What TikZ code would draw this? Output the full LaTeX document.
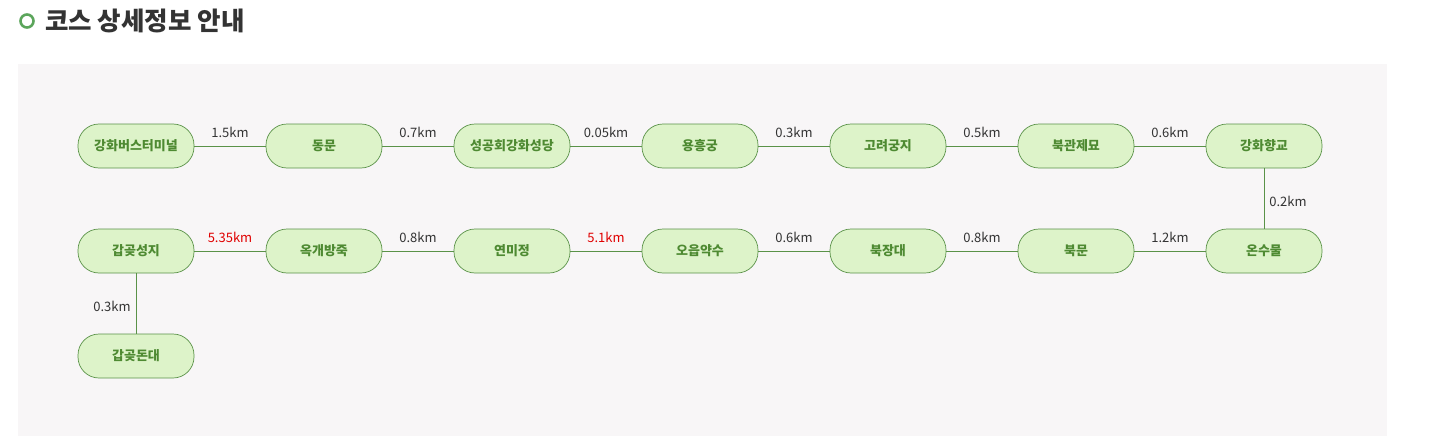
\documentclass[tikz,border=0pt]{standalone}
\usepackage{fontspec}
\setmainfont{Noto Sans CJK KR}
\definecolor{bgc}{HTML}{F8F6F7}
\definecolor{nfill}{HTML}{DDF3C9}
\definecolor{nline}{HTML}{5A9248}
\definecolor{ntext}{HTML}{4E8A32}
\definecolor{lblc}{HTML}{333333}
\definecolor{redc}{HTML}{E00000}
\definecolor{ringc}{HTML}{5BA55B}
\begin{document}
\begin{tikzpicture}[x=1pt,y=-1pt,
  stop/.style={draw=nline,fill=nfill,rounded corners=21pt,minimum width=116pt,minimum height=44pt,
    inner sep=0pt,font=\fontsize{13}{15}\selectfont\bfseries,text=ntext,line width=0.7pt},
  link/.style={draw=nline,line width=0.8pt},
  dist/.style={font=\fontsize{13}{15}\selectfont,text=lblc,inner sep=2pt},
  far/.style={dist,text=redc}]
\useasboundingbox (0,0) rectangle (1448,436);
\fill[white] (0,0) rectangle (1448,436);
\fill[bgc] (18,64) rectangle (1387,436);
\node[draw=ringc,line width=2.6pt,circle,minimum size=13pt,inner sep=0pt] (ring) at (27,21) {};
\node[anchor=west,font=\fontsize{25.5}{29}\selectfont\bfseries,text=lblc,inner sep=0pt] (title) at (45,21) {코스 상세정보 안내};
% row 1
\node[stop] (a1) at (136,146) {강화버스터미널};
\node[stop] (a2) at (324,146) {동문};
\node[stop] (a3) at (512,146) {성공회강화성당};
\node[stop] (a4) at (700,146) {용흥궁};
\node[stop] (a5) at (888,146) {고려궁지};
\node[stop] (a6) at (1076,146) {북관제묘};
\node[stop] (a7) at (1264,146) {강화향교};
% row 2
\node[stop] (b7) at (1264,251) {온수물};
\node[stop] (b6) at (1076,251) {북문};
\node[stop] (b5) at (888,251) {북장대};
\node[stop] (b4) at (700,251) {오읍약수};
\node[stop] (b3) at (512,251) {연미정};
\node[stop] (b2) at (324,251) {옥개방죽};
\node[stop] (b1) at (136,251) {갑곶성지};
% row 3
\node[stop] (c1) at (136,356) {갑곶돈대};
% links
\draw[link] (a1) -- node[dist,above=6pt] {1.5km} (a2);
\draw[link] (a2) -- node[dist,above=6pt] {0.7km} (a3);
\draw[link] (a3) -- node[dist,above=6pt] {0.05km} (a4);
\draw[link] (a4) -- node[dist,above=6pt] {0.3km} (a5);
\draw[link] (a5) -- node[dist,above=6pt] {0.5km} (a6);
\draw[link] (a6) -- node[dist,above=6pt] {0.6km} (a7);
\draw[link] (a7) -- node[dist,right=3pt,yshift=-3pt] {0.2km} (b7);
\draw[link] (b7) -- node[dist,above=6pt] {1.2km} (b6);
\draw[link] (b6) -- node[dist,above=6pt] {0.8km} (b5);
\draw[link] (b5) -- node[dist,above=6pt] {0.6km} (b4);
\draw[link] (b4) -- node[far,above=6pt] {5.1km} (b3);
\draw[link] (b3) -- node[dist,above=6pt] {0.8km} (b2);
\draw[link] (b2) -- node[far,above=6pt] {5.35km} (b1);
\draw[link] (b1) -- node[dist,left=3pt,yshift=-3pt] {0.3km} (c1);
\end{tikzpicture}
\end{document}
